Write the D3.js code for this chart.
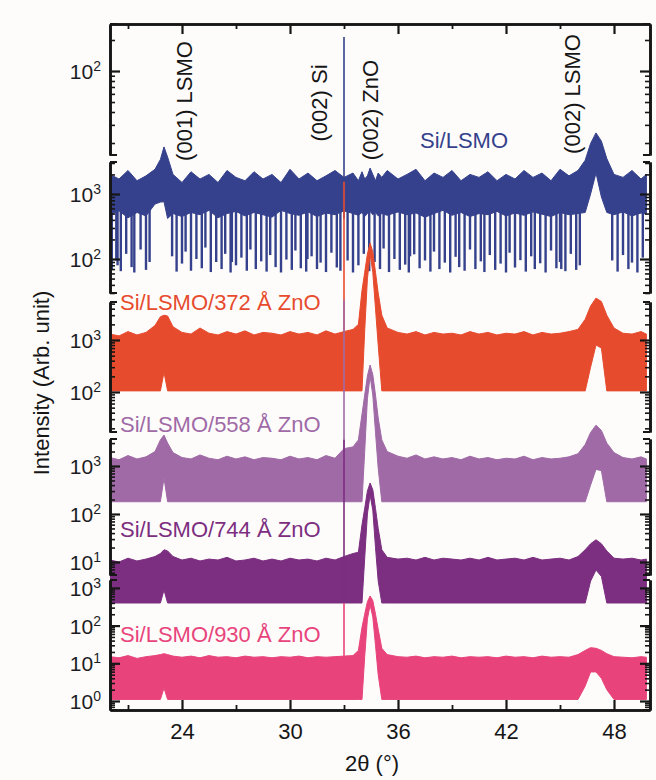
<!DOCTYPE html>
<html>
<head>
<meta charset="utf-8">
<script src="https://cdn.jsdelivr.net/npm/d3@7"></script>
<style>
body { margin: 0; background: #fdfcfb; }
svg { display: block; font-family: "Liberation Sans", Arial, sans-serif; }
</style>
</head>
<body>
<svg id="chart" width="656" height="780"></svg>
<script>
// XRD scans of Si/LSMO/ZnO stacks (counts)
var twoTheta = [20.0,20.5,21.0,21.5,22.0,22.5,22.8,23.0,23.2,23.5,
  24.0,24.5,25.0,25.5,26.0,26.5,27.0,27.5,28.0,28.5,
  29.0,29.5,30.0,30.5,31.0,31.5,32.0,32.5,33.0,33.5,
  33.8,34.0,34.15,34.3,34.45,34.6,34.75,34.9,35.1,35.4,
  36.0,36.5,37.0,37.5,38.0,38.5,39.0,39.5,40.0,40.5,
  41.0,41.5,42.0,42.5,43.0,43.5,44.0,44.5,45.0,45.5,
  46.0,46.4,46.7,47.0,47.3,47.6,48.0,48.5,49.0,49.5,
  49.8];

// upper edge of the noise band / lower edge of the filled band
var lsmoTop = [2000,1700,2300,1600,1900,2400,3400,5300,3700,2000,
  1500,2200,1700,2000,1500,2300,1800,1600,2200,1700,
  2000,1500,2400,1700,2100,1600,1900,2300,1800,2100,
  1600,2200,1700,1900,2500,2000,1600,2100,1800,2300,
  1700,2000,2400,1600,2100,1800,2300,1600,2000,1800,
  2200,1600,2000,1700,2300,1800,2100,1600,2400,1900,
  2300,3300,6000,8700,6500,3500,2000,1800,2300,1700,
  2000];
var lsmoLow = [480,550,430,520,460,700,750,760,420,500,
  450,520,480,560,430,500,540,460,520,480,
  440,560,500,470,530,450,510,480,550,500,
  470,520,450,500,540,480,520,460,500,470,
  530,480,510,440,500,560,470,520,450,500,
  480,540,460,510,470,530,490,450,520,480,
  500,520,1000,2100,900,520,480,530,460,510,
  490];
// deep single-channel drops of the Si/LSMO scan [2theta, counts]
var lsmoDips = [[20.1,70],[20.35,95],[20.42,80],[20.6,65],[20.9,120],[21.2,75],[21.35,62],[21.7,140],[22.0,68],[22.2,90],
  [23.45,110],[23.7,64],[24.0,85],[24.2,130],[24.5,66],[24.8,100],[25.1,72],[25.3,150],[25.6,63],[25.9,90],
  [26.2,70],[26.4,120],[26.7,62],[26.77,90],[27.0,80],[27.3,105],[27.6,66],[27.8,140],[28.1,70],[28.4,92],[28.7,64],
  [28.9,115],[29.2,75],[29.5,62],[29.8,98],[30.1,68],[30.3,135],[30.6,72],[30.9,64],[30.97,100],[31.2,110],[31.5,70],
  [31.7,88],[32.0,63],[32.3,125],[32.6,74],[32.8,66],[33.2,95],[33.5,62],[33.8,80],[34.1,120],[34.4,65],
  [34.7,90],[35.0,70],[35.2,145],[35.5,63],[35.8,100],[36.1,68],[36.4,82],[36.6,62],[36.67,110],[36.9,118],[37.2,72],
  [37.5,95],[37.8,64],[38.0,130],[38.3,70],[38.6,88],[38.9,62],[39.2,108],[39.4,75],[39.7,66],[40.0,140],
  [40.3,70],[40.6,92],[40.8,63],[41.1,115],[41.4,68],[41.7,85],[42.0,62],[42.2,125],[42.5,74],[42.8,96],
  [43.1,64],[43.4,110],[43.6,70],[43.9,86],[44.2,62],[44.5,135],[44.8,72],[45.0,90],[45.07,70],[45.3,65],[45.6,120],
  [45.9,68],[46.1,80],[47.9,95],[48.2,64],[48.5,115],[48.8,70],[49.0,88],[49.3,62],[49.6,105]];

var zno372Top = [1300,1200,1450,1250,1400,1900,2800,3000,2900,1800,
  1400,1300,1700,1350,1250,1450,1300,1500,1250,1400,
  1350,1250,1450,1300,1400,1250,1500,1300,1450,1600,
  2000,9000,20000,45000,73000,50000,20000,8000,3000,1700,
  1400,1300,1450,1250,1400,1300,1350,1250,1450,1300,
  1400,1250,1350,1300,1450,1250,1400,1300,1350,1450,
  1600,2500,4500,6400,5500,3000,1700,1350,1300,1450,
  1300];
var zno372Low = [105,105,105,105,105,105,105,240,105,105,
  105,105,105,105,105,105,105,105,105,105,
  105,105,105,105,105,105,105,105,105,105,
  105,105,1500,15000,45000,20000,4000,800,105,105,
  105,105,105,105,105,105,105,105,105,105,
  105,105,105,105,105,105,105,105,105,105,
  105,105,300,800,700,105,105,105,105,105,
  105];

var zno558Top = [1500,1350,1650,1400,1550,2000,3500,4400,3000,1900,
  1500,1400,1700,1450,1350,1600,1400,1550,1350,1500,
  1450,1350,1600,1400,1500,1350,1650,1450,2300,2500,
  3500,12000,30000,75000,127000,80000,30000,10000,3500,2000,
  1600,1450,1700,1400,1550,1400,1500,1350,1600,1400,
  1500,1350,1450,1400,1600,1350,1500,1400,1450,1550,
  1800,2800,5000,7100,5500,3000,1900,1500,1400,1550,
  1400];
var zno558Low = [180,180,180,180,180,180,180,560,180,180,
  180,180,180,180,180,180,180,180,180,180,
  180,180,180,180,180,180,180,180,180,180,
  180,180,2000,25000,75000,30000,5000,900,180,180,
  180,180,180,180,180,180,180,180,180,180,
  180,180,180,180,180,180,180,180,180,180,
  180,180,400,850,800,180,180,180,180,180,
  180];

var zno744Top = [11,10,12,10.5,11.5,13,15,18,17,13,
  11,12,10.5,11.5,11,12.5,10.5,11,12,10.5,
  11.5,10.5,12,11,11.5,10.5,12,11,13,15,
  16,60,130,300,443,320,130,50,18,12.5,
  11.5,12,11,12.5,11,12,11.5,11,12,11,
  12.5,11,11.5,12,11,12.5,11,11.5,12,11,
  13,18,24,29,24,17,12,11.5,12,11,
  11.5];
var zno744Low = [1.4,1.4,1.4,1.4,1.4,1.4,1.4,2.6,1.4,1.4,
  1.4,1.4,1.4,1.4,1.4,1.4,1.4,1.4,1.4,1.4,
  1.4,1.4,1.4,1.4,1.4,1.4,1.4,1.4,1.4,1.4,
  1.4,1.4,12,100,250,120,20,4,1.4,1.4,
  1.4,1.4,1.4,1.4,1.4,1.4,1.4,1.4,1.4,1.4,
  1.4,1.4,1.4,1.4,1.4,1.4,1.4,1.4,1.4,1.4,
  1.4,1.4,4,6.8,5,1.4,1.4,1.4,1.4,1.4,
  1.4];

var zno930Top = [15,14,16,13.5,15,16,17,18,17,15.5,
  14.5,15.5,14,16,14.5,15,14,15.5,14.5,15,
  14,15,14.5,15.5,14,15,14.5,15,15.5,16,
  22,90,200,430,610,460,200,80,25,17,
  15,14.5,15.5,14,15,14.5,15.5,14,15,14.5,
  15,14,15.5,14.5,15,14,15.5,14.5,15,14.5,
  17,22,26,25,22,18,15,14.5,14,15,
  14.5];
var zno930Low = [1.1,1.1,1.1,1.1,1.1,1.1,1.1,2.2,1.1,1.1,
  1.1,1.1,1.1,1.1,1.1,1.1,1.1,1.1,1.1,1.1,
  1.1,1.1,1.1,1.1,1.1,1.1,1.1,1.1,1.1,1.1,
  1.1,1.1,15,150,350,170,30,5,1.1,1.1,
  1.1,1.1,1.1,1.1,1.1,1.1,1.1,1.1,1.1,1.1,
  1.1,1.1,1.1,1.1,1.1,1.1,1.1,1.1,1.1,1.1,
  1.1,2.5,5.9,5.9,4,2,1.1,1.1,1.1,1.1,
  1.1];

// forbidden Si (002) reflection height for each scan
var siTheta = 33.0;
var siPeak = [260000, 1100000, 2900000, 3500, 400];

var sampleNames = ["Si/LSMO", "Si/LSMO/372 Å ZnO", "Si/LSMO/558 Å ZnO", "Si/LSMO/744 Å ZnO", "Si/LSMO/930 Å ZnO"];
var peakNames = ["(001) LSMO", "(002) Si", "(002) ZnO", "(002) LSMO"];
var xTicks = [24, 30, 36, 42, 48];
var xMinor = [21, 27, 33, 39, 45];

var width = 656, height = 780;
var left = 110, right = 650, plotTop = 24, plotBottom = 710;

var svg = d3.select("#chart");

var x = d3.scaleLinear().domain([20, 50]).range([left, right]);

// stacked layers, each with its own log axis
var layers = [
  {y0: 24,  y1: 155, lo: 15.3, hi: 286,  labels: [100]},
  {y0: 162, y1: 293, lo: 30,   hi: 3105, labels: [1000, 100]},
  {y0: 302, y1: 432, lo: 17,   hi: 5380, labels: [1000, 100]},
  {y0: 439, y1: 575, lo: 5.36, hi: 3650, labels: [1000, 100, 10]},
  {y0: 580, y1: 710, lo: 0.577, hi: 1620, labels: [1000, 100, 10, 1]}
];
layers.forEach(function(l){
  l.y = d3.scaleLog().domain([l.lo, l.hi]).range([l.y1, l.y0]);
});

var traces = [
  {top: lsmoTop,   low: lsmoLow,   layer: 1, color: "#35418c", label: [420, 148]},
  {top: zno372Top, low: zno372Low, layer: 2, color: "#e74b2e", label: [120, 310]},
  {top: zno558Top, low: zno558Low, layer: 3, color: "#a06aa6", label: [120, 432]},
  {top: zno744Top, low: zno744Low, layer: 3, color: "#7c2e80", label: [120, 537]},
  {top: zno930Top, low: zno930Low, layer: 4, color: "#e8447b", label: [120, 642]}
];

svg.append("rect").attr("width", width).attr("height", height).attr("fill", "#fdfcfb");

svg.append("clipPath").attr("id", "plotclip")
  .append("rect").attr("x", left).attr("y", plotTop)
  .attr("width", right - left).attr("height", plotBottom - plotTop);

var plot = svg.append("g").attr("clip-path", "url(#plotclip)");

traces.forEach(function(t, i){
  var ys = layers[t.layer].y;
  var pts = twoTheta.map(function(d, j){ return {t: d, hi: t.top[j], lo: t.low[j]}; });
  var area = d3.area()
    .x(function(d){ return x(d.t); })
    .y0(function(d){ return ys(d.lo); })
    .y1(function(d){ return ys(d.hi); });
  plot.append("path").datum(pts)
    .attr("d", area)
    .attr("fill", t.color)
    .attr("stroke", t.color)
    .attr("stroke-width", 1);

  if (i == 0) {
    // drops of the bare LSMO scan
    plot.selectAll(".dip").data(lsmoDips).enter().append("line")
      .attr("x1", function(d){ return x(d[0]); })
      .attr("x2", function(d){ return x(d[0]); })
      .attr("y1", ys(600))
      .attr("y2", function(d){ return ys(d[1]); })
      .attr("stroke", t.color)
      .attr("stroke-width", 2.4);
  }

  var base = d3.min(t.low);
  plot.append("line")
    .attr("x1", x(siTheta)).attr("x2", x(siTheta))
    .attr("y1", ys(base)).attr("y2", ys(siPeak[i]))
    .attr("stroke", t.color).attr("stroke-width", 1.6);
});

// axes
var ink = "#161616";
function styleAxis(g, w){
  g.selectAll(".domain").attr("stroke", ink).attr("stroke-width", 2.6);
  g.selectAll(".tick line").attr("stroke", ink).attr("stroke-width", w);
  g.selectAll("text").remove();
}

layers.forEach(function(l){
  var all = l.y.ticks();
  var major = all.filter(function(v){ return Math.abs(Math.log10(v) - Math.round(Math.log10(v))) < 1e-6; });
  var minor = all.filter(function(v){ return major.indexOf(v) < 0; });

  [[d3.axisLeft, left], [d3.axisRight, right]].forEach(function(a){
    var g1 = svg.append("g").attr("transform", "translate(" + a[1] + ",0)")
      .call(a[0](l.y).tickValues(major).tickSize(-10).tickSizeOuter(0));
    styleAxis(g1, 2.2);
    var g2 = svg.append("g").attr("transform", "translate(" + a[1] + ",0)")
      .call(a[0](l.y).tickValues(minor).tickSize(-5).tickSizeOuter(0));
    styleAxis(g2, 1.6);
    // caps at both ends of the layer axis
    var dir = a[1] == left ? 1 : -1;
    [l.y0, l.y1].forEach(function(yy){
      svg.append("line").attr("x1", a[1]).attr("x2", a[1] + dir * 7)
        .attr("y1", yy).attr("y2", yy)
        .attr("stroke", ink).attr("stroke-width", 2);
    });
  });

  l.labels.forEach(function(v){
    var t = svg.append("text")
      .attr("x", 101).attr("y", l.y(v) + 8)
      .attr("text-anchor", "end")
      .attr("fill", "#1c1c24")
      .attr("font-size", 21);
    t.append("tspan").text("10");
    t.append("tspan").attr("dy", -8).attr("font-size", 14).text(Math.round(Math.log10(v)));
  });
});

var xb = svg.append("g").attr("transform", "translate(0," + plotBottom + ")")
  .call(d3.axisBottom(x).tickValues(xTicks).tickSize(-10).tickSizeOuter(0).tickPadding(13));
xb.selectAll(".domain").attr("stroke", ink).attr("stroke-width", 2.6);
xb.selectAll(".tick line").attr("stroke", ink).attr("stroke-width", 2.2);
xb.selectAll("text").attr("font-size", 22).attr("fill", ink).attr("font-family", "Liberation Sans, Arial, sans-serif");
var xbm = svg.append("g").attr("transform", "translate(0," + plotBottom + ")")
  .call(d3.axisBottom(x).tickValues(xMinor).tickSize(-5).tickSizeOuter(0));
styleAxis(xbm, 1.8);

var xt = svg.append("g").attr("transform", "translate(0," + plotTop + ")")
  .call(d3.axisTop(x).tickValues(xTicks).tickSize(-10).tickSizeOuter(0));
styleAxis(xt, 2.2);
var xtm = svg.append("g").attr("transform", "translate(0," + plotTop + ")")
  .call(d3.axisTop(x).tickValues(xMinor).tickSize(-5).tickSizeOuter(0));
styleAxis(xtm, 1.8);

// axis titles
svg.append("text")
  .attr("transform", "translate(49,383) rotate(-90)")
  .attr("text-anchor", "middle")
  .attr("font-size", 22)
  .attr("fill", ink)
  .text("Intensity (Arb. unit)");

svg.append("text")
  .attr("x", 372).attr("y", 771)
  .attr("text-anchor", "middle")
  .attr("font-size", 22)
  .attr("fill", ink)
  .text("2θ (°)");

// reflection labels (2theta, vertical centre)
var peakPos = [[24.17, 101], [31.67, 103], [34.5, 110], [45.72, 94]];
peakNames.forEach(function(n, i){
  svg.append("text")
    .attr("transform", "translate(" + (x(peakPos[i][0]) + 7) + "," + peakPos[i][1] + ") rotate(-90)")
    .attr("text-anchor", "middle")
    .attr("font-size", 22)
    .attr("fill", ink)
    .text(n);
});

// sample labels
traces.forEach(function(t, i){
  svg.append("text")
    .attr("x", t.label[0]).attr("y", t.label[1])
    .attr("font-size", 22)
    .attr("fill", t.color)
    .text(sampleNames[i]);
});
</script>
</body>
</html>
